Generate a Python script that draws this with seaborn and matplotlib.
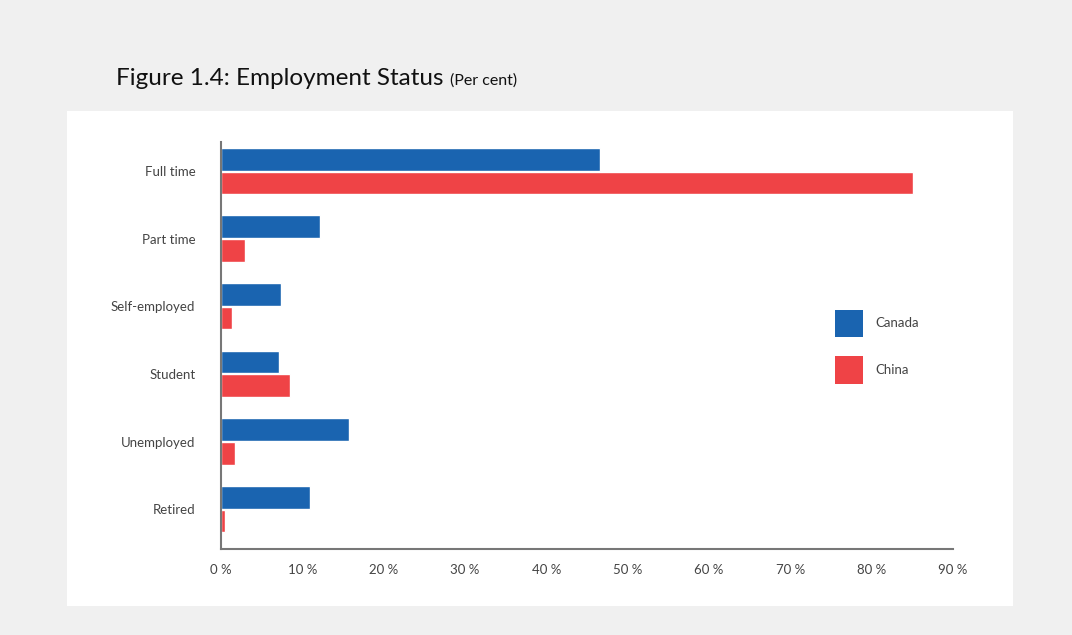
import matplotlib
matplotlib.use("Agg")
import matplotlib.pyplot as plt
import matplotlib.patches as mpatches
import seaborn as sns
import pandas as pd

# data
categories = ["Full time", "Part time", "Self-employed", "Student", "Unemployed", "Retired"]
canada = [46.6, 12.2, 7.4, 7.1, 15.7, 10.9]
china = [85.1, 2.9, 1.4, 8.5, 1.7, 0.5]
series = ["Canada", "China"]
colors = ["#1a64b0", "#ef4346"]
xticks = [0, 10, 20, 30, 40, 50, 60, 70, 80, 90]

df = pd.DataFrame({
    "status": categories * 2,
    "value": canada + china,
    "country": ["Canada"] * len(categories) + ["China"] * len(categories),
})

sns.set_style("white")
plt.rcParams["font.family"] = ["Lato", "DejaVu Sans"]

fig = plt.figure(figsize=(10.72, 6.35), dpi=100)
fig.patch.set_facecolor("#f0f0f0")

# white panel behind the chart
bg = fig.add_axes([67 / 1072, 1 - 606 / 635, (1013 - 67) / 1072, (606 - 111) / 635])
bg.set_facecolor("white")
bg.set_xticks([])
bg.set_yticks([])
for s in bg.spines.values():
    s.set_visible(False)
bg.set_zorder(0)

fig.text(116 / 1072, 1 - 85 / 635, "Figure 1.4: Employment Status", fontsize=17.5, color="#111111", va="baseline")
fig.text(450 / 1072, 1 - 85 / 635, "(Per cent)", fontsize=11.5, color="#111111", va="baseline")

ax = fig.add_axes([221 / 1072, 1 - 549 / 635, (953 - 221) / 1072, (549 - 142) / 635])
ax.set_zorder(1)
ax.patch.set_alpha(0)

sns.barplot(data=df, y="status", x="value", hue="country", order=categories, hue_order=series,
            palette=colors, orient="h", width=0.7, gap=0.04, ax=ax, legend=False, saturation=1)

ax.set_xlim(0, 90)
ax.set_ylim(5.59, -0.43)
ax.set_xticks(xticks)
ax.set_xticklabels([f"{t} %" for t in xticks])
ax.set_xlabel("")
ax.set_ylabel("")
ax.tick_params(axis="y", length=0, pad=18.5, labelsize=9.5, labelcolor="#444444")
ax.tick_params(axis="x", length=0, pad=11, labelsize=9.5, labelcolor="#444444")

for s in ["top", "right"]:
    ax.spines[s].set_visible(False)
for s in ["left", "bottom"]:
    ax.spines[s].set_color("#777777")
    ax.spines[s].set_linewidth(1.5)

handles = [mpatches.Patch(facecolor=c, edgecolor="none", label=l) for c, l in zip(colors, series)]
leg = fig.legend(handles=handles, loc="upper left", bbox_to_anchor=(823 / 1072, 1 - 298 / 635),
                 frameon=False, handlelength=2.1, handleheight=2.8, labelspacing=1.45,
                 handletextpad=1.0, fontsize=9.5)
leg.set_zorder(3)
for t in leg.get_texts():
    t.set_color("#444444")

fig.savefig("out.png", dpi=100, facecolor=fig.get_facecolor())
